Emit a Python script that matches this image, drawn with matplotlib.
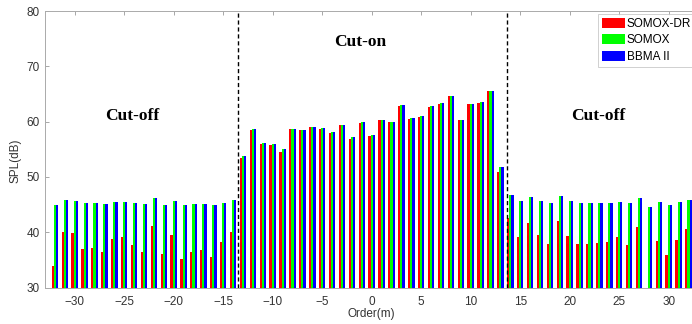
import numpy as np
import matplotlib
matplotlib.use("Agg")
import matplotlib.pyplot as plt

orders = list(range(-32, 33))

somox_dr = [33.9, 40.1, 39.8, 37.0, 37.1, 36.5, 38.8, 39.1, 37.6, 36.4,
            41.1, 36.1, 39.5, 35.2, 36.4, 36.8, 35.6, 38.2, 40.0,
            53.4, 58.4, 55.9, 55.7, 54.5, 58.6, 58.4, 59.0, 58.7, 57.9,
            59.3, 56.9, 59.8, 57.4, 60.2, 60.0, 62.9, 60.5, 60.9, 62.6,
            63.2, 64.6, 60.2, 63.1, 63.4, 65.5, 50.9,
            42.6, 39.2, 41.7, 39.5, 37.9, 42.0, 39.3, 37.9, 37.9, 38.0,
            38.2, 39.1, 37.7, 41.0, float('nan'), 38.4, 35.9, 38.6, 40.5]

somox = [44.9, 45.8, 45.7, 45.2, 45.2, 45.1, 45.5, 45.5, 45.3, 45.1,
         46.1, 45.0, 45.6, 45.0, 45.1, 45.1, 45.0, 45.3, 45.8,
         53.8, 58.6, 56.1, 55.9, 55.0, 58.7, 58.5, 59.1, 58.8, 58.1,
         59.4, 57.2, 60.0, 57.6, 60.2, 60.0, 63.0, 60.6, 61.0, 62.8,
         63.4, 64.7, 60.3, 63.2, 63.5, 65.5, 51.7,
         46.7, 45.6, 46.4, 45.7, 45.3, 46.5, 45.6, 45.3, 45.3, 45.3,
         45.3, 45.5, 45.3, 46.1, 44.5, 45.4, 45.0, 45.5, 45.9]

bbma2 = [44.9, 45.8, 45.7, 45.2, 45.2, 45.1, 45.5, 45.5, 45.3, 45.1,
         46.1, 45.0, 45.6, 45.0, 45.1, 45.1, 45.0, 45.3, 45.8,
         53.8, 58.6, 56.1, 55.9, 55.0, 58.7, 58.5, 59.1, 58.8, 58.1,
         59.4, 57.2, 60.0, 57.6, 60.2, 60.0, 63.0, 60.6, 61.0, 62.8,
         63.4, 64.7, 60.3, 63.2, 63.5, 65.5, 51.7,
         46.7, 45.6, 46.4, 45.7, 45.3, 46.5, 45.6, 45.3, 45.3, 45.3,
         45.3, 45.5, 45.3, 46.1, 44.5, 45.4, 45.0, 45.5, 45.9]

series_names = ["SOMOX-DR", "SOMOX", "BBMA II"]
series_colors = ["#ff0000", "#00ff00", "#0000ff"]
boundaries = [-13.5, 13.65]
region_labels = ["Cut-off", "Cut-on", "Cut-off"]
region_x = [-24.2, -1.2, 22.9]
region_y = [61.0, 74.4, 61.0]

plt.rcParams['font.family'] = ['Liberation Sans', 'DejaVu Sans']

fig = plt.figure(figsize=(6.92, 3.24), dpi=100)
W, H = 692, 324
ax = fig.add_axes([45 / W, (H - 287.5) / H, 653.4 / W, 276.5 / H])

x = np.array(orders, dtype=float)
bw = 0.222
for i, (vals, name, col) in enumerate(zip([somox_dr, somox, bbma2], series_names, series_colors)):
    ax.bar(x + (i - 1) * bw, np.array(vals) - 30, width=bw, bottom=30,
           color=col, edgecolor='none', label=name, zorder=2)

for b in boundaries:
    ax.axvline(b, color='black', linestyle=(0, (3, 2)), linewidth=1.0, zorder=3)

for lab, tx, ty in zip(region_labels, region_x, region_y):
    ax.text(tx, ty, lab, ha='center', va='center', fontsize=12.5, fontweight='bold',
            family=['Liberation Serif', 'DejaVu Serif'], color='black')

ax.set_xlim(-33, 33)
ax.set_ylim(30, 80)
ax.set_xticks(np.arange(-30, 31, 5))
ax.set_yticks(np.arange(30, 81, 10))
ax.tick_params(direction='in', length=3, width=0.6, colors='#999999',
               labelcolor='#333333', labelsize=8.5, top=True, right=True, pad=4)
ax.tick_params(axis='x', pad=6)
for sp in ax.spines.values():
    sp.set_color('#aaaaaa')
    sp.set_linewidth(0.7)

ax.set_xlabel("Order(m)", fontsize=8.5, color='#333333', labelpad=0)
ax.set_ylabel("SPL(dB)", fontsize=8.5, color='#333333')
ax.yaxis.set_label_coords(-0.036, 0.46)

leg = ax.legend(loc='upper right', bbox_to_anchor=(1, 1), fontsize=8.5,
                handlelength=1.9, handleheight=0.93, handletextpad=0.2,
                labelspacing=0.36, borderpad=0.35, borderaxespad=0.25,
                frameon=True, fancybox=False, edgecolor='#bbbbbb')
leg.get_frame().set_linewidth(0.6)

fig.savefig("out.png", dpi=100)
